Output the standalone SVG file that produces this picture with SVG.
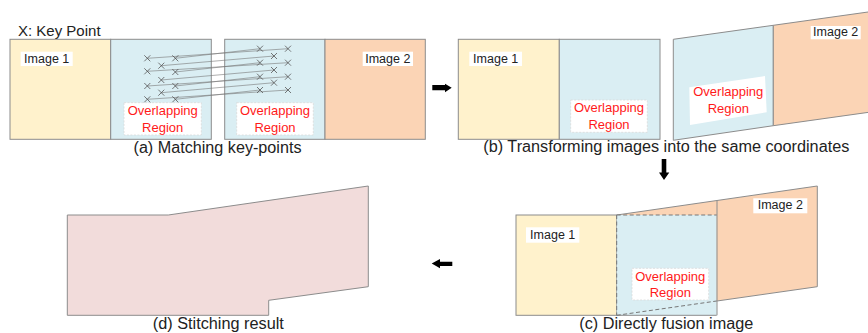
<svg xmlns="http://www.w3.org/2000/svg" width="868" height="333" viewBox="0 0 868 333">
<style>
text{font-family:"Liberation Sans",Arial,sans-serif;fill:#222}
.lbl{font-size:12.5px;text-anchor:middle}
.red{font-size:13px;fill:#ff1a1a;text-anchor:middle}
.cap{font-size:16px;text-anchor:middle}
.ed{stroke:#8c8c8c;stroke-width:1}
.y{fill:#fff2cc}.b{fill:#daeef3}.o{fill:#fbd4b5}.p{fill:#f2dcdb}
.wb{fill:#fff;stroke:#d9d9d9;stroke-width:0.8;stroke-dasharray:2 1.5}
.wn{fill:#fff}
.dash{fill:none;stroke:#777;stroke-width:1;stroke-dasharray:4 2.5}
.kp{stroke:#555;stroke-width:0.8;fill:none}
.ml{stroke:#777;stroke-width:0.6}
.arr{fill:#000}
</style>
<defs>
<path id="x" d="M-3,-3L3,3M-3,3L3,-3" class="kp"/>
</defs>
<text x="18" y="36" style="font-size:15px">X: Key Point</text>

<g id="panel-a">
<rect x="10" y="39.3" width="100.7" height="100" class="y ed"/>
<rect x="110.7" y="39.3" width="100.6" height="100" class="b ed"/>
<rect x="224.7" y="39.3" width="100.3" height="100" class="b ed"/>
<rect x="325" y="39.3" width="100.3" height="100" class="o ed"/>
<rect x="20.7" y="51.7" width="52" height="14.3" class="wn"/>
<text x="46.7" y="62.7" class="lbl">Image 1</text>
<rect x="362.7" y="51.7" width="50.3" height="14.3" class="wn"/>
<text x="387.8" y="62.7" class="lbl">Image 2</text>
<rect x="124" y="102.7" width="77.3" height="32.3" class="wb"/>
<text x="162.7" y="115" class="red">Overlapping</text>
<text x="162.7" y="131.5" class="red">Region</text>
<rect x="236.7" y="102.7" width="76.6" height="32.3" class="wb"/>
<text x="275" y="115" class="red">Overlapping</text>
<text x="275" y="131.5" class="red">Region</text>
</g>

<g id="keypoints">
<g class="ml">
<line x1="147.3" y1="58.3" x2="288" y2="48.7"/>
<line x1="147.3" y1="71.3" x2="288" y2="62.7"/>
<line x1="147.3" y1="86" x2="288" y2="76.7"/>
<line x1="147.3" y1="99.3" x2="288" y2="90"/>
<line x1="161.3" y1="65.7" x2="274" y2="56"/>
<line x1="161.3" y1="80" x2="274" y2="70"/>
<line x1="161.3" y1="92.7" x2="274" y2="82.7"/>
<line x1="175.3" y1="58.3" x2="260" y2="48.7"/>
<line x1="175.3" y1="72" x2="260" y2="62.7"/>
<line x1="175.3" y1="86" x2="260" y2="76.7"/>
<line x1="175.3" y1="99.3" x2="260" y2="90"/>
</g>
<use href="#x" x="147.3" y="58.3"/><use href="#x" x="147.3" y="71.3"/><use href="#x" x="147.3" y="86"/><use href="#x" x="147.3" y="99.3"/>
<use href="#x" x="161.3" y="65.7"/><use href="#x" x="161.3" y="80"/><use href="#x" x="161.3" y="92.7"/>
<use href="#x" x="175.3" y="58.3"/><use href="#x" x="175.3" y="72"/><use href="#x" x="175.3" y="86"/><use href="#x" x="175.3" y="99.3"/>
<use href="#x" x="260" y="48.7"/><use href="#x" x="260" y="62.7"/><use href="#x" x="260" y="76.7"/><use href="#x" x="260" y="90"/>
<use href="#x" x="274" y="56"/><use href="#x" x="274" y="70"/><use href="#x" x="274" y="82.7"/>
<use href="#x" x="288" y="48.7"/><use href="#x" x="288" y="62.7"/><use href="#x" x="288" y="76.7"/><use href="#x" x="288" y="90"/>
</g>
<text x="217.5" y="153" class="cap" textLength="168" lengthAdjust="spacingAndGlyphs">(a) Matching key-points</text>

<g id="panel-b">
<rect x="458.3" y="39.3" width="101" height="100" class="y ed"/>
<rect x="559.3" y="39.3" width="100.7" height="100" class="b ed"/>
<rect x="469.3" y="51.7" width="52.7" height="14.3" class="wn"/>
<text x="495.7" y="62.7" class="lbl">Image 1</text>
<rect x="570.7" y="100" width="76.6" height="32.3" class="wb"/>
<text x="609" y="112" class="red">Overlapping</text>
<text x="609" y="128.5" class="red">Region</text>
<polygon points="673.3,39.3 773.3,25.3 773.3,125.7 673.3,140.3" class="b ed"/>
<polygon points="773.3,25.3 873,11.3 873,111.7 773.3,125.7" class="o ed"/>
<rect x="810.7" y="26" width="50" height="13.3" class="wn"/>
<text x="835.7" y="36.3" class="lbl">Image 2</text>
<polygon points="689.3,87.3 765,76 766.7,112.3 690,125" class="wn"/>
<text x="728.3" y="96" class="red">Overlapping</text>
<text x="728.3" y="112.7" class="red">Region</text>
</g>
<text x="666.3" y="152" class="cap" textLength="366" lengthAdjust="spacingAndGlyphs">(b) Transforming images into the same coordinates</text>

<g id="panel-c">
<polygon points="616.7,215 817.3,186 817.3,286.7 616.7,315.3" class="o ed"/>
<rect x="516" y="215" width="100.7" height="100.3" class="y ed"/>
<rect x="616.7" y="215" width="100" height="100.3" class="b"/>
<line x1="717" y1="200.5" x2="717" y2="315.3" class="ed"/>
<line x1="616.7" y1="315.3" x2="716.7" y2="315.3" class="ed"/>
<path d="M616.7,215H716.7M616.7,215V315.3M616.7,315.3L716.7,301" class="dash"/>
<rect x="526" y="227.3" width="53.3" height="15.4" class="wn"/>
<text x="552.7" y="238.5" class="lbl">Image 1</text>
<rect x="753.3" y="198.3" width="54" height="15" class="wn"/>
<text x="780.3" y="209.3" class="lbl">Image 2</text>
<rect x="632" y="268.3" width="76.7" height="31.7" class="wb"/>
<text x="670.3" y="281" class="red">Overlapping</text>
<text x="670.3" y="297.3" class="red">Region</text>
</g>
<text x="666.3" y="329.3" class="cap" textLength="174" lengthAdjust="spacingAndGlyphs">(c) Directly fusion image</text>

<g id="panel-d">
<polygon points="67.3,215 168.3,215 368.3,186 368.3,286.7 268.7,300.3 268.7,315.3 67.3,315.3" class="p ed"/>
</g>
<text x="218.3" y="329.3" class="cap" textLength="131" lengthAdjust="spacingAndGlyphs">(d) Stitching result</text>

<g id="connectors">
<polygon points="432.3,85 445,85 445,83.7 451.7,87.7 445,92.3 445,90.3 432.3,90.3" class="arr"/>
<polygon points="661.7,159 666.3,159 666.3,172.5 669.3,172.5 664,180 659,172.5 661.7,172.5" class="arr"/>
<polygon points="452.3,261.7 440,261.7 440,259 431.7,263.6 440,268.3 440,266 452.3,266" class="arr"/>
</g>
</svg>
